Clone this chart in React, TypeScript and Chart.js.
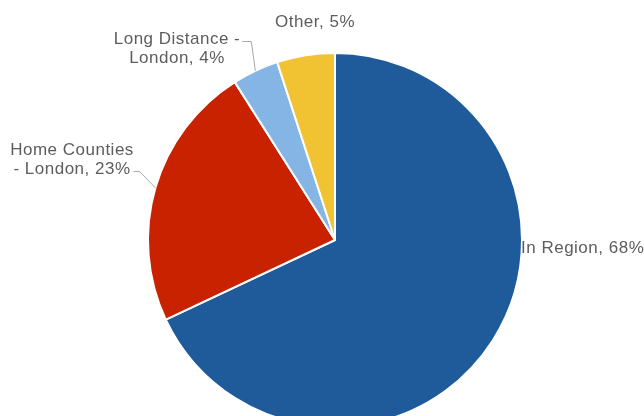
import React, { useEffect, useRef } from "react";
import { Chart, registerables } from "chart.js";

Chart.register(...registerables);

const categories = ["In Region", "Home Counties - London", "Long Distance - London", "Other"];
const shares = [68, 23, 4, 5];
const sliceColors = ["#1F5A9A", "#C92200", "#85B5E5", "#F1C232"];
const labelLines = [
  ["In Region, 68%"],
  ["Home Counties", "- London, 23%"],
  ["Long Distance -", "London, 4%"],
  ["Other, 5%"],
];

// label placement relative to pie centre (px), alignment, leader flag
const labelLayout = [
  { dx: 186, dy: 8, align: "left", leader: false },
  { dx: -263, dy: -80, align: "center", leader: true },
  { dx: -158, dy: -191, align: "center", leader: true },
  { dx: -20, dy: -218, align: "center", leader: false },
];

const labelPlugin = {
  id: "pieLabels",
  afterDraw(chart: any) {
    const ctx = chart.ctx;
    const meta = chart.getDatasetMeta(0);
    ctx.save();
    ctx.font = '17px "Liberation Sans", Arial, sans-serif';
    try { (ctx as any).letterSpacing = "0.5px"; } catch (e) {}
    ctx.fillStyle = "#5d5d5d";
    ctx.textBaseline = "middle";
    meta.data.forEach((arc: any, i: number) => {
      const cx = arc.x, cy = arc.y, r = arc.outerRadius;
      const lay = labelLayout[i];
      const lines = labelLines[i];
      const lh = 19;
      const x = cx + lay.dx;
      const y0 = cy + lay.dy - ((lines.length - 1) * lh) / 2;
      ctx.textAlign = lay.align;
      lines.forEach((t, k) => ctx.fillText(t, x, y0 + k * lh));
      if (lay.leader) {
        const mid = (arc.startAngle + arc.endAngle) / 2;
        const ex = cx + Math.cos(mid) * r;
        const ey = cy + Math.sin(mid) * r;
        const lastW = ctx.measureText(lines[lines.length - 1]).width;
        const firstW = ctx.measureText(lines[0]).width;
        ctx.strokeStyle = "#a8a8a8";
        ctx.lineWidth = 1;
        ctx.beginPath();
        if (i === 1) {
          const sx = x + lastW / 2 + 3;
          const sy = y0 + lh;
          ctx.moveTo(sx, sy + 2);
          ctx.lineTo(sx + 6, sy + 2);
          ctx.lineTo(ex, ey);
        } else {
          const sx = x + firstW / 2 + 2;
          const sy = y0 + 2;
          ctx.moveTo(sx, sy);
          ctx.lineTo(sx + 9, sy);
          ctx.lineTo(ex, ey);
        }
        ctx.stroke();
      }
    });
    ctx.restore();
  },
};

export default function App() {
  const ref = useRef<HTMLCanvasElement>(null);
  useEffect(() => {
    document.body.style.margin = "0";
    const chart = new Chart(ref.current!, {
      type: "pie",
      data: {
        labels: categories,
        datasets: [
          {
            data: shares,
            backgroundColor: sliceColors,
            borderColor: "#ffffff",
            borderWidth: 2,
          },
        ],
      },
      options: {
        responsive: false,
        animation: false,
        layout: { padding: { top: 52, bottom: 12, left: 147, right: 121 } },
        plugins: { legend: { display: false }, tooltip: { enabled: false } },
      },
      plugins: [labelPlugin],
    });
    return () => chart.destroy();
  }, []);
  return (
    <div style={{ width: 644, height: 416, overflow: "hidden", background: "#fff" }}>
      <canvas ref={ref} width={644} height={440} style={{ display: "block" }} />
    </div>
  );
}
